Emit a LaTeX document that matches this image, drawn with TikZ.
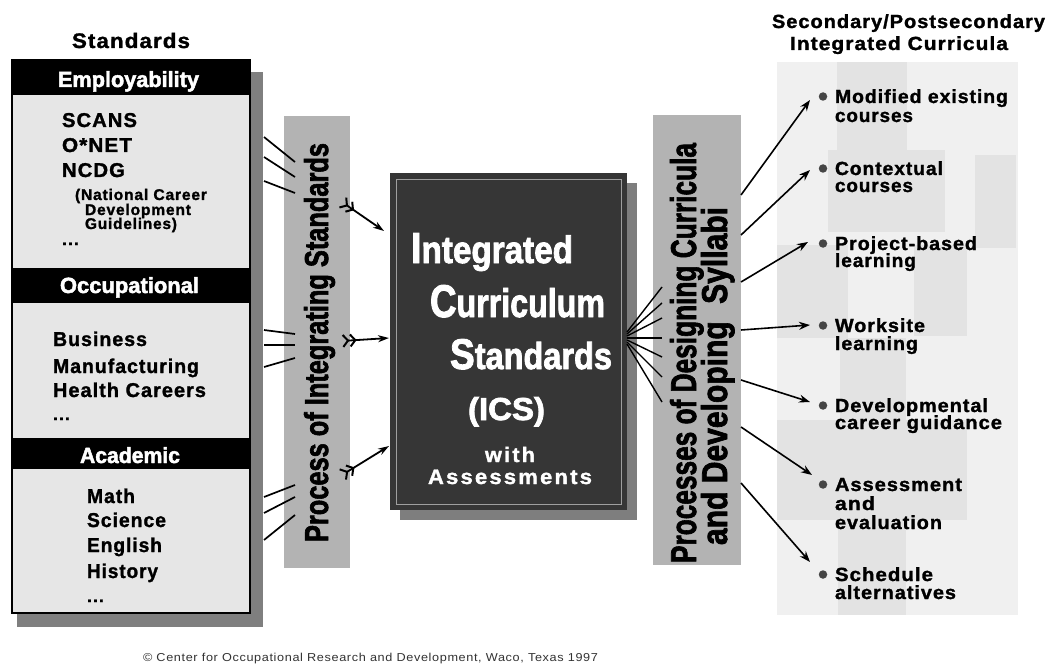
\documentclass[tikz,border=0pt]{standalone}
\usepackage{fontspec}
\usepackage{graphicx}
\setmainfont{Liberation Sans}[BoldFeatures={FakeBold=1.2}]
\newfontfamily\spc{Liberation Sans}[LetterSpace=5, BoldFeatures={FakeBold=1.4}]
\newfontfamily\spcw{Liberation Sans}[LetterSpace=10, BoldFeatures={FakeBold=1.4}]
\newfontfamily\heavy{Liberation Sans}[BoldFeatures={FakeBold=2.2}]
\usetikzlibrary{arrows.meta}
% set a line of text to an exact width, keeping its height
\newcommand\fitw[2]{\resizebox{#1}{\height}{#2}}
% one text line: style, name, x, baseline y, width, text
\newcommand\tline[6]{\node[txt,#1] (#2) at (#3,#4) {\fitw{#5pt}{#6}};}
\definecolor{barG}{HTML}{B3B3B3}
\definecolor{boxG}{HTML}{E6E6E6}
\definecolor{shadowG}{HTML}{7F7F7F}
\definecolor{coreG}{HTML}{363636}
\definecolor{coreShadow}{HTML}{7E7E7E}
\definecolor{panelG}{HTML}{F0F0F0}
\definecolor{patchG}{HTML}{E3E3E3}
\definecolor{bulletG}{HTML}{454545}
\begin{document}
\begin{tikzpicture}[x=1pt,y=-1pt,
  txt/.style={anchor=base west, inner sep=0pt, outer sep=0pt, text=black},
  block/.style={anchor=north west, inner sep=0pt, outer sep=0pt},
  lfont/.style={font=\spc\bfseries\fontsize{20}{20}\selectfont},
  sfont/.style={font=\spc\bfseries\fontsize{15.5}{15.5}\selectfont},
  ifont/.style={font=\spc\bfseries\fontsize{19}{19}\selectfont},
  hdr/.style={anchor=base, inner sep=0pt, text=white, font=\heavy\bfseries\fontsize{22}{22}\selectfont},
  link/.style={line width=1.7pt, black},
  fanline/.style={line width=1.4pt, black},
  feather/.style={line width=1.8pt, black,
    {Straight Barb[reversed,length=5pt,width=12pt,line width=2pt] Straight Barb[reversed,length=5pt,width=12pt,line width=2pt]}-{Stealth[length=11pt,width=7pt]}},
  outarrow/.style={line width=1.6pt, black, -{Stealth[length=11pt,width=8pt]}},
  bullet/.style={circle, fill=bulletG, inner sep=0pt, minimum size=8.5pt}]

\path[use as bounding box, fill=white] (0,0) rectangle (1058,666);

% ---------- right panel with its patchwork ----------
\node[block, fill=panelG, minimum width=241pt, minimum height=553pt] (panel) at (777,62) {};
\fill[patchG] (837,62) rectangle (907,150);
\fill[patchG] (828,150) rectangle (945,232);
\fill[patchG] (975,155) rectangle (1016,248);
\fill[patchG] (777,245) rectangle (848,338);
\fill[patchG] (914,245) rectangle (967,336);
\fill[patchG] (840,338) rectangle (906,420);
\fill[patchG] (777,420) rectangle (967,520);
\fill[patchG] (838,520) rectangle (906,615);

% ---------- standards box ----------
\node[font=\spc\bfseries\fontsize{21}{21}\selectfont, txt] (stdtitle) at (72,48) {\fitw{118pt}{Standards}};
\fill[shadowG] (17,72) rectangle (263,627);
\node[block, fill=boxG, draw=black, line width=1.6pt, minimum width=238pt, minimum height=553pt] (stdbox) at (12,60) {};
\node[block, fill=black, minimum width=238pt, minimum height=35pt] (emplband) at (12,60) {};
\node[block, fill=black, minimum width=238pt, minimum height=35pt] (occband) at (12,268) {};
\node[block, fill=black, minimum width=238pt, minimum height=31pt] (acaband) at (12,438) {};
\node[hdr] (empl) at (128.5,87) {\fitw{141pt}{Employability}};
\node[hdr] (occ) at (129.5,293) {\fitw{139pt}{Occupational}};
\node[hdr] (aca) at (130,463) {\fitw{100pt}{Academic}};

\tline{lfont}{scans}{62}{127}{75}{SCANS}
\tline{lfont}{onet}{62}{152}{70}{O*NET}
\tline{lfont}{ncdg}{62}{177}{63}{NCDG}
\tline{sfont}{ncdgA}{75}{200}{132}{(National Career}
\tline{sfont}{ncdgB}{85}{215}{106}{Development}
\tline{sfont}{ncdgC}{85}{229}{92}{Guidelines)}
\tline{sfont}{dotsA}{62}{245}{17}{...}
\tline{lfont}{bus}{53}{346}{94}{Business}
\tline{lfont}{manu}{53}{373}{146}{Manufacturing}
\tline{lfont}{health}{53}{397}{153}{Health Careers}
\tline{sfont}{dotsB}{53}{420}{17}{...}
\tline{lfont}{math}{87}{503}{48}{Math}
\tline{lfont}{sci}{87}{527}{79}{Science}
\tline{lfont}{eng}{87}{552}{75}{English}
\tline{lfont}{hist}{87}{578}{71}{History}
\tline{sfont}{dotsC}{87}{602}{17}{...}

% ---------- integrating bar ----------
\node[block, fill=barG, minimum width=66pt, minimum height=452pt] (intbar) at (284,116) {};
\node[txt, rotate=90, font=\heavy\bfseries\fontsize{34}{34}\selectfont] (inttext) at (328,542)
  {\resizebox{399pt}{24pt}{Process of Integrating Standards}};

% links from the standards box to the bar
\foreach \n/\ya/\yb in {1/137/162, 2/157/177, 3/181/193,
                        4/330/334, 5/345/345, 6/367/358,
                        7/497/485, 8/513/497, 9/540/515} {
  \coordinate (sa\n) at (264,\ya);
  \coordinate (sb\n) at (295,\yb);
  \draw[link] (sa\n) -- (sb\n);
}

% ---------- integrated curriculum standards ----------
\node[block, fill=coreShadow, minimum width=237pt, minimum height=337pt] (coreshadow) at (400,183) {};
\node[block, fill=coreG, minimum width=237pt, minimum height=337pt] (core) at (390,173) {};
\draw[gray!75, line width=0.8pt] (396,179) rectangle (621,504);
\node[txt, text=white, font=\heavy\bfseries] (lnA) at (411,263)
  {\resizebox{162pt}{30pt}{\fontsize{40}{40}\selectfont I\fontsize{35}{35}\selectfont ntegrated}};
\node[txt, text=white, font=\heavy\bfseries] (lnB) at (430,317)
  {\resizebox{175pt}{32pt}{\fontsize{40}{40}\selectfont C\fontsize{35}{35}\selectfont urriculum}};
\node[txt, text=white, font=\heavy\bfseries] (lnC) at (450,369)
  {\resizebox{162pt}{30pt}{\fontsize{40}{40}\selectfont S\fontsize{35}{35}\selectfont tandards}};
\node[txt, text=white, font=\heavy\bfseries\fontsize{32}{32}\selectfont] (lnD) at (468,420)
  {\resizebox{77pt}{23pt}{(ICS)}};
\node[anchor=base, inner sep=0pt, text=white, font=\spcw\bfseries\fontsize{21}{21}\selectfont] (lnE) at (510,462) {\fitw{50pt}{with}};
\node[anchor=base, inner sep=0pt, text=white, font=\spcw\bfseries\fontsize{21}{21}\selectfont] (lnF) at (510,484) {\fitw{164pt}{Assessments}};

% feathered arrows into the core box
\coordinate (fa1) at (342,202); \coordinate (fb1) at (384,231);
\coordinate (fa2) at (342,341); \coordinate (fb2) at (389,338);
\coordinate (fa3) at (342,475); \coordinate (fb3) at (389,446);
\draw[feather] (fa1) -- (fb1);
\draw[feather] (fa2) -- (fb2);
\draw[feather] (fa3) -- (fb3);

% ---------- designing bar ----------
\node[block, fill=barG, minimum width=88pt, minimum height=450pt] (desbar) at (653,115) {};
\node[txt, rotate=90, font=\heavy\bfseries\fontsize{36}{36}\selectfont] (desA) at (696,563)
  {\resizebox{420pt}{26pt}{Processes of Designing Curricula}};
\node[txt, rotate=90, font=\heavy\bfseries\fontsize{36}{36}\selectfont] (desB) at (727,545)
  {\resizebox{338pt}{26pt}{and Developing\hspace{0.3em} Syllabi}};

% fan from the core box to the bar
\foreach \n/\ya/\yb in {1/332/287, 2/334/303, 3/336/318, 4/338/338, 5/340/357, 6/342/377, 7/344/402} {
  \coordinate (ca\n) at (627,\ya);
  \coordinate (cb\n) at (662,\yb);
  \draw[fanline] (ca\n) -- (cb\n);
}

% ---------- integrated curricula ----------
\node[txt, font=\spc\bfseries\fontsize{19}{19}\selectfont] (secA) at (772,28) {\fitw{273pt}{Secondary/Postsecondary}};
\node[txt, font=\spc\bfseries\fontsize{19}{19}\selectfont] (secB) at (790,50) {\fitw{218pt}{Integrated Curricula}};

\tline{ifont}{iA1}{835}{103}{173}{Modified existing}
\tline{ifont}{iA2}{835}{122}{78}{courses}
\tline{ifont}{iB1}{835}{175}{108}{Contextual}
\tline{ifont}{iB2}{835}{192}{78}{courses}
\tline{ifont}{iC1}{835}{250}{142}{Project-based}
\tline{ifont}{iC2}{835}{267}{81}{learning}
\tline{ifont}{iD1}{835}{332}{90}{Worksite}
\tline{ifont}{iD2}{835}{350}{83}{learning}
\tline{ifont}{iE1}{835}{412}{153}{Developmental}
\tline{ifont}{iE2}{835}{429}{167}{career guidance}
\tline{ifont}{iF1}{835}{491}{127}{Assessment}
\tline{ifont}{iF2}{835}{510}{40}{and}
\tline{ifont}{iF3}{835}{529}{107}{evaluation}
\tline{ifont}{iG1}{835}{581}{98}{Schedule}
\tline{ifont}{iG2}{835}{599}{121}{alternatives}

\foreach \n/\yb/\yt/\ye/\xe in {1/103/195/100/810, 2/175/235/170/810, 3/250/282/242/808,
    4/332/330/325/810, 5/412/380/402/810, 6/491/427/475/812, 7/581/483/562/810} {
  \node[bullet] (dot\n) at (823,\yb-6.5) {};
  \coordinate (oa\n) at (741,\yt);
  \coordinate (ob\n) at (\xe,\ye);
  \draw[outarrow] (oa\n) -- (ob\n);
}

% ---------- credit line ----------
\node[txt, text=black!80, font=\spc\fontsize{11.5}{11.5}\selectfont] (credit) at (143,661)
  {\fitw{455pt}{\textcopyright\ Center for Occupational Research and Development, Waco, Texas 1997}};
\end{tikzpicture}
\end{document}
